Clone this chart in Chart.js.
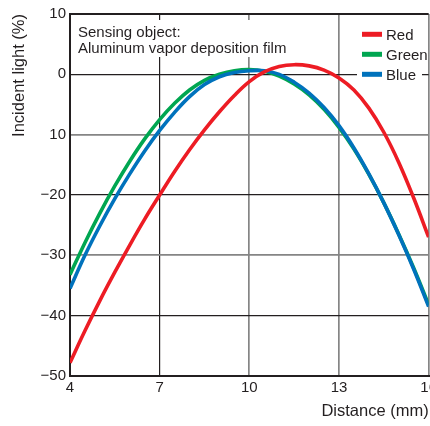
<!DOCTYPE html>
<html>
<head>
<meta charset="utf-8">
<script src="https://cdn.jsdelivr.net/npm/chart.js@4.4.1/dist/chart.umd.min.js"></script>
<style>
  html, body { margin: 0; padding: 0; background: #fff; width: 430px; height: 426px; overflow: hidden; }
  canvas { display: block; }
</style>
</head>
<body>
<canvas id="light-chart" width="440" height="426"></canvas>
<script>
const distances = [4, 4.5, 5, 5.5, 6, 6.5, 7, 7.5, 8, 8.5, 9, 9.5, 10, 10.5, 11, 11.5, 12, 12.5, 13, 13.5, 14, 14.5, 15, 15.5, 16];
const redValues = [-47.8, -42.5, -37.5, -32.8, -28.3, -24.0, -20.0, -16.1, -12.5, -9.2, -6.2, -3.5, -1.2, 0.4, 1.3, 1.6, 1.4, 0.7, -0.6, -2.6, -5.6, -9.6, -14.6, -20.5, -27.0];
const greenValues = [-33.2, -27.9, -23.0, -18.5, -14.4, -10.7, -7.5, -4.8, -2.6, -1.0, 0.0, 0.6, 0.8, 0.5, -0.3, -1.6, -3.4, -5.8, -8.8, -12.4, -16.6, -21.3, -26.5, -32.1, -38.2];
const blueValues = [-35.5, -30.0, -25.1, -20.6, -16.5, -12.7, -9.3, -6.3, -3.7, -1.7, -0.4, 0.3, 0.6, 0.6, 0.0, -1.3, -3.1, -5.5, -8.5, -12.2, -16.5, -21.3, -26.6, -32.3, -38.5];
const seriesNames = ['Red', 'Green', 'Blue'];
const xTicks = [4, 7, 10, 13, 16];
const yTicks = [10, 0, -10, -20, -30, -40, -50];
const yTickLabels = ['10', '0', '10', '\u221220', '\u221230', '\u221240', '\u221250'];
const noteLines = ['Sensing object:', 'Aluminum vapor deposition film'];

const font = "'Liberation Sans', Arial, Helvetica, sans-serif";
const textColor = '#231f20';
const colors = ['#ed1c24', '#00a651', '#0072bc'];
const darkLines = [10, 0, -20, -40, -50];

const overlay = {
    id: 'overlay',
    beforeDatasetsDraw(chart) {
        const ctx = chart.ctx;
        ctx.save();
        // note box
        ctx.fillStyle = '#fff';
        ctx.fillRect(72, 20, 224, 37);
        ctx.fillStyle = textColor;
        ctx.font = '15px ' + font;
        ctx.textBaseline = 'alphabetic';
        noteLines.forEach((t, i) => ctx.fillText(t, 78, 36.7 + i * 16));
        // legend
        ctx.fillStyle = '#fff';
        ctx.fillRect(357, 24, 65, 61);
        seriesNames.forEach((name, i) => {
            const y = 34.3 + i * 20;
            ctx.strokeStyle = colors[i];
            ctx.lineWidth = 5;
            ctx.beginPath();
            ctx.moveTo(362, y);
            ctx.lineTo(382, y);
            ctx.stroke();
            ctx.fillStyle = textColor;
            ctx.fillText(name, 386, y + 5.4);
        });
        ctx.restore();
    }
};

const makeSet = (i, values, order) => ({
    label: seriesNames[i],
    data: distances.map((d, k) => ({ x: d, y: values[k] })),
    borderColor: colors[i],
    borderWidth: 3.6,
    pointRadius: 0,
    tension: 0.4,
    fill: false,
    order: order
});

new Chart(document.getElementById('light-chart'), {
    type: 'line',
    data: {
        datasets: [
            makeSet(0, redValues, 1),
            makeSet(1, greenValues, 3),
            makeSet(2, blueValues, 2)
        ]
    },
    options: {
        responsive: false,
        animation: false,
        layout: { padding: { top: 14, right: 8, left: 0, bottom: 0 } },
        plugins: { legend: { display: false }, tooltip: { enabled: false } },
        scales: {
            x: {
                type: 'linear',
                min: 4,
                max: 16,
                afterBuildTicks: (scale) => { scale.ticks = xTicks.map(v => ({ value: v })); },
                afterFit: (scale) => { scale.height = 50; },
                ticks: {
                    color: textColor,
                    font: { family: font, size: 15 },
                    padding: 3,
                    maxRotation: 0,
                    autoSkip: false
                },
                grid: {
                    drawTicks: false,
                    color: (c) => (c.tick && (c.tick.value === 7 || c.tick.value === 4)) ? '#231f20' : '#858585',
                    lineWidth: (c) => (c.tick && c.tick.value === 4) ? 2 : (c.tick && c.tick.value === 7 ? 1.2 : 1.7)
                },
                border: { color: '#231f20', width: 2 },
                title: {
                    display: true,
                    text: 'Distance (mm)',
                    align: 'end',
                    color: textColor,
                    font: { family: font, size: 16.5 },
                    padding: { top: 0, bottom: 4.6 }
                }
            },
            y: {
                min: -50,
                max: 10,
                afterBuildTicks: (scale) => { scale.ticks = yTicks.map(v => ({ value: v })); },
                afterFit: (scale) => { scale.width = 70; },
                ticks: {
                    color: textColor,
                    font: { family: font, size: 15 },
                    padding: 4,
                    callback: (v) => yTickLabels[yTicks.indexOf(v)]
                },
                grid: {
                    drawTicks: false,
                    color: (c) => (c.tick && darkLines.includes(c.tick.value)) ? '#231f20' : '#858585',
                    lineWidth: (c) => {
                        if (!c.tick) return 1;
                        if (c.tick.value === 10 || c.tick.value === -50) return 2;
                        return darkLines.includes(c.tick.value) ? 1.2 : 1.7;
                    }
                },
                border: { color: '#231f20', width: 2 },
                title: {
                    display: true,
                    text: 'Incident light (%)',
                    align: 'end',
                    color: textColor,
                    font: { family: font, size: 16.5 },
                    padding: { top: 10, bottom: 0 }
                }
            }
        }
    },
    plugins: [overlay]
});
</script>
</body>
</html>
